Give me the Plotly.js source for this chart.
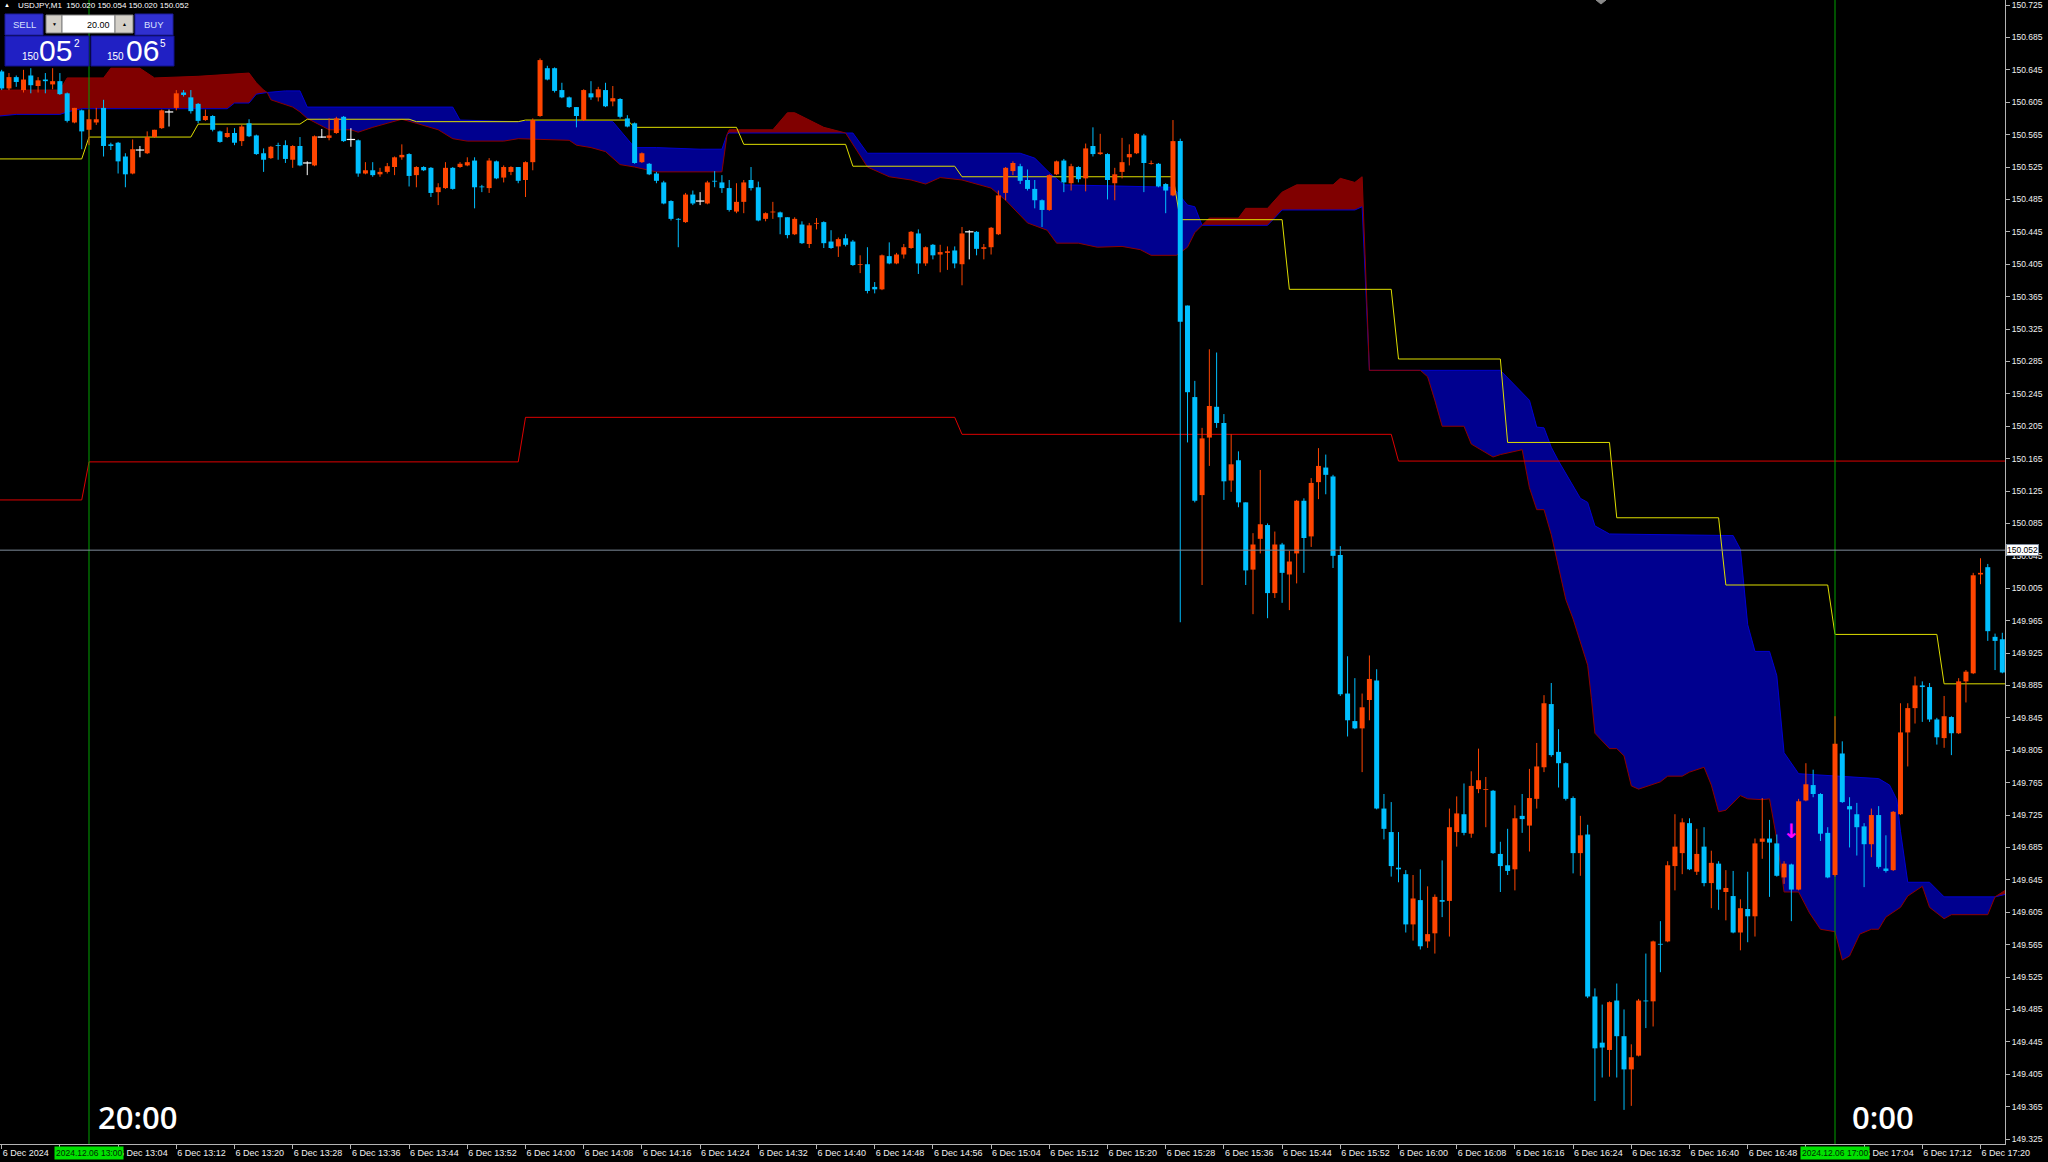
<!DOCTYPE html>
<html>
<head>
<meta charset="utf-8">
<script src="https://cdn.plot.ly/plotly-3.0.1.min.js"></script>
<style>
html,body{margin:0;padding:0;background:#000;}
#chart{width:2048px;height:1162px;}
</style>
</head>
<body>
<div id="chart"></div>
<script>
// ---------------- DATA (USDJPY M1, 6 Dec 2024; x = minutes from 13:00) ----------------
const firstBarMinute = -12;   // 12:48
const barOpen = [
150.643,150.622,150.636,150.620,150.638,150.625,150.633,150.627,150.631,150.616,150.580,150.595,
150.571,150.580,150.598,150.553,150.555,150.538,150.517,150.546,150.542,150.562,
150.573,150.593,150.598,150.617,150.611,150.603,150.583,150.588,150.569,150.562,
150.567,150.557,150.579,150.564,150.542,150.536,150.552,150.552,150.534,150.551,
150.530,150.527,150.562,150.561,150.567,150.587,150.559,150.558,150.517,150.521,
150.516,150.519,150.525,150.537,150.541,150.515,150.525,150.524,150.494,150.499,
150.524,150.525,150.527,150.533,150.501,150.499,150.532,150.512,150.519,150.525,
150.509,150.531,150.588,150.647,150.647,150.620,150.611,150.599,150.583,150.616,
150.611,150.620,150.606,150.609,150.585,150.579,150.531,150.529,150.517,150.506,
150.483,150.461,150.457,150.491,150.483,150.480,150.508,150.506,150.499,150.470,
150.482,150.509,150.500,150.461,150.469,150.469,150.463,150.442,150.454,150.430,
150.455,150.457,150.433,150.427,150.437,150.433,150.404,150.405,150.377,150.374,
150.415,150.406,150.417,150.425,150.443,150.406,150.429,150.417,150.419,150.422,
150.405,150.445,150.445,150.424,150.426,150.442,150.493,150.520,150.526,150.509,
150.498,150.484,150.472,150.516,150.533,150.505,150.525,150.511,150.551,150.541,
150.541,150.505,150.519,150.537,150.542,150.564,150.529,150.529,150.504,150.490,
150.557,150.354,150.241,150.120,150.191,150.229,150.209,150.138,150.163,150.111,
150.028,150.066,150.083,149.999,150.059,150.022,150.048,150.113,150.069,150.136,
150.154,150.143,150.046,149.875,149.841,149.832,149.867,149.891,149.733,149.704,
149.660,149.652,149.590,149.620,149.569,149.579,149.620,149.619,149.704,149.726,
149.702,149.757,149.756,149.755,149.677,149.663,149.658,149.724,149.712,149.745,
149.784,149.862,149.803,149.789,149.746,149.678,149.701,149.501,149.444,149.435,
149.496,149.452,149.411,149.428,149.496,149.495,149.566,149.569,149.662,149.678,
149.715,149.655,149.686,149.641,149.665,149.630,149.625,149.580,149.609,149.600,
149.692,149.696,149.690,149.648,149.664,149.633,149.743,149.762,149.751,149.703,
149.651,149.801,149.736,149.726,149.711,149.689,149.725,149.659,149.657,149.726,
149.827,149.857,149.885,149.883,149.843,149.820,149.846,149.826,149.890,149.900,
150.022,150.031,149.945,149.942];
const barHigh = [
150.645,150.641,150.638,150.645,150.647,150.636,150.641,150.647,150.641,150.617,150.598,150.596,
150.596,150.598,150.608,150.555,150.556,150.542,150.559,150.551,150.569,150.571,
150.596,150.596,150.620,150.620,150.620,150.604,150.596,150.589,150.570,150.574,
150.573,150.577,150.584,150.565,150.548,150.551,150.555,150.558,150.552,150.562,
150.532,150.564,150.572,150.585,150.587,150.588,150.573,150.559,150.531,150.531,
150.524,150.530,150.538,150.553,150.542,150.526,150.526,150.525,150.505,150.531,
150.525,150.531,150.537,150.537,150.503,150.536,150.533,150.527,150.526,150.525,
150.532,150.585,150.659,150.650,150.648,150.629,150.612,150.599,150.621,150.631,
150.624,150.629,150.625,150.610,150.589,150.580,150.543,150.530,150.519,150.508,
150.484,150.462,150.493,150.496,150.494,150.508,150.520,150.515,150.509,150.505,
150.509,150.525,150.507,150.469,150.482,150.470,150.463,150.463,150.458,150.456,
150.462,150.458,150.447,150.438,150.442,150.435,150.416,150.426,150.383,150.417,
150.432,150.419,150.430,150.446,150.448,150.427,150.430,150.429,150.427,150.427,
150.451,150.447,150.446,150.430,150.451,150.496,150.525,150.532,150.529,150.522,
150.509,150.485,150.516,150.533,150.535,150.529,150.526,150.554,150.574,150.566,
150.542,150.524,150.561,150.553,150.567,150.566,150.533,150.530,150.505,150.583,
150.560,150.354,150.261,150.203,150.300,150.296,150.220,150.195,150.174,150.111,
150.073,150.151,150.085,150.075,150.061,150.051,150.114,150.116,150.141,150.178,
150.170,150.145,150.057,149.921,149.894,149.875,149.922,149.905,149.751,149.741,
149.704,149.657,149.651,149.658,149.637,149.627,149.669,149.733,149.748,149.764,
149.779,149.807,149.772,149.756,149.692,149.708,149.737,149.751,149.782,149.814,
149.873,149.888,149.831,149.790,149.748,149.724,149.713,149.511,149.491,149.495,
149.517,149.485,149.442,149.498,149.554,149.570,149.594,149.668,149.726,149.721,
149.721,149.708,149.710,149.681,149.668,149.657,149.656,149.621,149.655,149.696,
149.746,149.719,149.701,149.668,149.665,149.745,149.789,149.781,149.752,149.710,
149.847,149.816,149.747,149.740,149.715,149.733,149.736,149.700,149.730,149.863,
149.863,149.896,149.890,149.888,149.845,149.872,149.847,149.894,149.904,150.024,
150.042,150.035,149.949,149.950];
const barLow = [
150.620,150.620,150.624,150.617,150.616,150.617,150.616,150.621,150.614,150.580,150.579,150.547,
150.552,150.577,150.538,150.546,150.517,150.500,150.516,150.537,150.541,150.561,
150.572,150.575,150.595,150.612,150.591,150.579,150.582,150.569,150.555,150.561,
150.552,150.551,150.562,150.540,150.519,150.535,150.534,150.530,150.524,150.526,
150.515,150.526,150.561,150.558,150.566,150.556,150.550,150.513,150.516,150.513,
150.513,150.517,150.515,150.534,150.501,150.500,150.520,150.488,150.478,150.498,
150.497,150.524,150.526,150.474,150.494,150.493,150.510,150.506,150.515,150.505,
150.488,150.521,150.587,150.632,150.617,150.610,150.598,150.574,150.582,150.608,
150.606,150.599,150.600,150.585,150.574,150.529,150.530,150.515,150.505,150.479,
150.459,150.426,150.456,150.478,150.478,150.479,150.500,150.493,150.470,150.468,
150.468,150.496,150.458,150.458,150.461,150.442,150.437,150.441,150.430,150.425,
150.448,150.425,150.424,150.414,150.427,150.403,150.394,150.369,150.369,150.373,
150.405,150.405,150.412,150.424,150.393,150.403,150.411,150.395,150.398,150.400,
150.379,150.411,150.416,150.411,150.417,150.441,150.484,150.515,150.504,150.496,
150.474,150.451,150.471,150.515,150.494,150.496,150.506,150.495,150.538,150.540,
150.485,150.484,150.511,150.527,150.541,150.494,150.528,150.500,150.468,150.489,
149.963,150.185,150.111,150.009,150.156,150.203,150.114,150.124,150.105,150.009,
149.973,150.048,149.968,149.993,149.987,149.978,150.011,150.024,150.056,150.115,
150.121,150.030,149.872,149.822,149.831,149.778,149.842,149.732,149.695,149.649,
149.642,149.580,149.570,149.559,149.561,149.554,149.599,149.575,149.686,149.700,
149.697,149.752,149.710,149.677,149.630,149.651,149.632,149.703,149.680,149.733,
149.778,149.797,149.759,149.743,149.653,149.650,149.499,149.372,149.401,149.402,
149.401,149.361,149.366,149.427,149.462,149.464,149.531,149.568,149.632,149.652,
149.657,149.651,149.637,149.610,149.608,149.595,149.579,149.558,149.568,149.575,
149.671,149.624,149.649,149.640,149.594,149.632,149.742,149.747,149.693,149.647,
149.649,149.740,149.685,149.675,149.636,149.673,149.659,149.654,149.656,149.725,
149.785,149.838,149.840,149.840,149.812,149.808,149.799,149.825,149.864,149.899,
150.010,149.940,149.904,149.900];
const barClose = [
150.622,150.636,150.630,150.633,150.626,150.632,150.631,150.631,150.615,150.582,150.598,150.569,
150.584,150.584,150.551,150.551,150.532,150.516,150.547,150.546,150.562,150.571,
150.595,150.593,150.616,150.614,150.594,150.582,150.588,150.571,150.556,150.567,
150.555,150.575,150.563,150.541,150.534,150.550,150.551,150.535,150.551,150.527,
150.530,150.563,150.562,150.564,150.585,150.557,150.559,150.517,150.521,150.515,
150.519,150.526,150.537,150.540,150.514,150.525,150.521,150.493,150.500,150.524,
150.498,150.529,150.531,150.500,150.500,150.533,150.511,150.525,150.525,150.508,
150.531,150.583,150.657,150.633,150.619,150.611,150.599,150.588,150.620,150.611,
150.621,150.600,150.610,150.587,150.575,150.530,150.542,150.516,150.508,150.480,
150.461,150.460,150.491,150.480,150.483,150.506,150.507,150.499,150.472,150.482,
150.506,150.499,150.459,150.468,150.470,150.463,150.441,150.461,150.431,150.453,
150.456,150.431,150.425,150.436,150.429,150.404,150.405,150.372,150.374,150.416,
150.406,150.417,150.426,150.445,150.406,150.426,150.416,150.420,150.421,150.406,
150.443,150.445,150.424,150.426,150.450,150.490,150.524,150.530,150.508,150.498,
150.484,150.472,150.515,150.532,150.506,150.526,150.510,150.548,150.541,150.543,
150.509,150.516,150.531,150.541,150.566,150.530,150.530,150.501,150.496,150.557,
150.334,150.247,150.113,150.190,150.230,150.209,150.137,150.158,150.111,150.027,
150.059,150.084,149.999,150.059,150.024,150.038,150.113,150.067,150.135,150.156,
150.145,150.045,149.874,149.842,149.832,149.858,149.893,149.733,149.708,149.662,
149.658,149.590,149.622,149.563,149.578,149.624,149.618,149.710,149.727,149.703,
149.761,149.768,149.757,149.678,149.662,149.656,149.721,149.720,149.746,149.785,
149.863,149.799,149.789,149.745,149.678,149.700,149.501,149.437,149.438,149.494,
149.452,149.411,149.426,149.496,149.495,149.569,149.565,149.663,149.686,149.716,
149.658,149.677,149.641,149.666,149.633,149.635,149.580,149.610,149.600,149.690,
149.696,149.691,149.650,149.665,149.633,149.742,149.763,149.751,149.702,149.648,
149.813,149.741,149.732,149.710,149.689,149.725,149.661,149.656,149.729,149.827,
149.857,149.885,149.883,149.843,149.821,149.847,149.826,149.890,149.902,150.021,
150.024,149.952,149.940,149.901];

// Ichimoku cloud boundaries (bar minute, price)
const spanA_x = [-12.3,-10,-4,-3,-1,19,20,22,23,24.5,27,29,30,50,51,59,72,75,78,84,87,87.7,88,104,105,107,128,130,132,134,149,151,152,153,162,164,174,175,176,183,194,198,199,200,201,202,205,206,207,209,221,226,227,228,229,231,232,233,235,246,247.5,248.5,249,250,253,255,262,263.4];
const spanA_y = [150.588,150.590,150.590,150.593,150.597,150.597,150.604,150.604,150.615,150.617,150.619,150.619,150.599,150.599,150.583,150.581,150.581,150.549,150.549,150.547,150.547,150.565,150.567,150.567,150.567,150.542,150.542,150.536,150.518,150.503,150.500,150.478,150.476,150.453,150.453,150.472,150.472,150.476,150.274,150.274,150.274,150.237,150.204,150.203,150.179,150.162,150.116,150.111,150.082,150.072,150.070,150.070,150.053,149.960,149.927,149.927,149.897,149.802,149.776,149.770,149.762,149.744,149.705,149.642,149.642,149.624,149.624,149.627];
const spanB_x = [-12.3,-4,-3,2,3,7,9,15,22,23,24,24.5,25,28,29,30,33,36,37,39,41,43,45,48,50,52,57,59,66,67,69,71,73,75,78,87,87.7,88,94,96,97,101,104,107,110,113,115,117,120,122.5,124,126,128,129,131.7,133,136,138.6,142,144.5,146,149.5,151,152,153,154,158,159,162,164,166,171,172,174,175,176,183,184,185,186,189,190,193,194,197,198,199,200,201,202,203,204,206,206.5,207,209,210,211,212,213,216,217,219,220,222,223,224,225,227,228,230,231,232,233,235,236.5,238,240,241,242,243.4,245,246,247,249,250,252,253,255,256,261,262,263.4];
const spanB_y = [150.620,150.620,150.635,150.635,150.647,150.647,150.635,150.637,150.641,150.629,150.620,150.617,150.608,150.599,150.593,150.585,150.571,150.571,150.568,150.574,150.579,150.584,150.579,150.571,150.560,150.557,150.557,150.560,150.558,150.552,150.549,150.544,150.528,150.525,150.519,150.519,150.565,150.571,150.571,150.592,150.592,150.574,150.567,150.525,150.513,150.509,150.504,150.512,150.509,150.503,150.499,150.484,150.466,150.456,150.447,150.431,150.431,150.426,150.427,150.423,150.416,150.416,150.426,150.444,150.453,150.462,150.462,150.474,150.474,150.494,150.503,150.503,150.511,150.506,150.513,150.274,150.274,150.266,150.237,150.205,150.205,150.183,150.167,150.170,150.176,150.129,150.102,150.102,150.071,150.030,149.991,149.967,149.910,149.870,149.826,149.807,149.807,149.798,149.761,149.757,149.766,149.773,149.773,149.778,149.784,149.762,149.729,149.731,149.749,149.745,149.744,149.745,149.695,149.630,149.630,149.604,149.584,149.581,149.546,149.551,149.578,149.584,149.584,149.599,149.611,149.625,149.637,149.611,149.597,149.602,149.602,149.624,149.632];
const kumoBreaks = [-12.3, 24.5, 87.7, 104, 153, 176, 262, 263.4];
const kumoBullish = [false, true, false, true, false, true, false];

// M15 line (yellow), steps every 15 bars
const m15Start = [-12.3,0,15,30,45,60,75,90,105,120,135,150,165,180,195,210,225,240,255];
const m15Level = [150.535,150.562,150.578,150.584,150.581,150.583,150.574,150.553,150.526,150.513,150.513,150.460,150.374,150.288,150.185,150.092,150.009,149.948,149.887];
// H1 line (red), steps every 60 bars
const h1Start = [-12.3,0,60,120,180];
const h1Level = [150.114,150.161,150.216,150.195,150.162];

const bidPrice = 150.052;
const headerText = 'USDJPY,M1  150.020 150.054 150.020 150.052';
const sessionMarks = [0, 240];
const sessionNames = ['20:00', '0:00'];
const sessionDates = ['2024.12.06 13:00', '2024.12.06 17:00'];
const signalX = [234];
const signalY = [149.703];

// tick labels hidden under the green session date boxes are left blank
const timeTicks = [-12,-4,4,12,20,28,36,44,52,60,68,76,84,92,100,108,116,124,132,140,148,156,164,172,180,188,196,204,212,220,228,236,244,252,260];
const timeTickLabels = ['6 Dec 2024','','6 Dec 13:04','6 Dec 13:12','6 Dec 13:20','6 Dec 13:28','6 Dec 13:36','6 Dec 13:44','6 Dec 13:52','6 Dec 14:00','6 Dec 14:08','6 Dec 14:16','6 Dec 14:24','6 Dec 14:32','6 Dec 14:40','6 Dec 14:48','6 Dec 14:56','6 Dec 15:04','6 Dec 15:12','6 Dec 15:20','6 Dec 15:28','6 Dec 15:36','6 Dec 15:44','6 Dec 15:52','6 Dec 16:00','6 Dec 16:08','6 Dec 16:16','6 Dec 16:24','6 Dec 16:32','6 Dec 16:40','6 Dec 16:48','','6 Dec 17:04','6 Dec 17:12','6 Dec 17:20'];
const priceTickLabels = ['149.325','149.365','149.405','149.445','149.485','149.525','149.565','149.605','149.645','149.685','149.725','149.765','149.805','149.845','149.885','149.925','149.965','150.005','150.045','150.085','150.125','150.165','150.205','150.245','150.285','150.325','150.365','150.405','150.445','150.485','150.525','150.565','150.605','150.645','150.685','150.725'];

// ---------------- LAYOUT GEOMETRY ----------------
const W = 2048, H = 1162;
const M = {l: 0, r: 43, t: 0, b: 18};
const PW = W - M.l - M.r, PH = H - M.t - M.b;
const xRange = [-12.234, 263.368];
const yRange = [149.3189, 150.7312];
const px = v => (v - M.l) / PW;          // pixel -> paper x
const py = v => 1 - (v - M.t) / PH;      // pixel -> paper y

const BULL = '#ff4500', BEAR = '#00bfff', DOJI = '#ffffff';
const FONT = 'Liberation Sans, Arial, sans-serif';

// ---------------- TRACES ----------------
const traces = [];
const N = barOpen.length;
const barX = barOpen.map((_, k) => firstBarMinute + k);

// cloud fills
function pick(xs, ys, s, e) {
  const ox = [], oy = [];
  for (let k = 0; k < xs.length; k++) if (xs[k] >= s - 1e-9 && xs[k] <= e + 1e-9) { ox.push(xs[k]); oy.push(ys[k]); }
  return [ox, oy];
}
for (let s = 0; s < kumoBreaks.length - 1; s++) {
  const a = pick(spanA_x, spanA_y, kumoBreaks[s], kumoBreaks[s + 1]);
  const b = pick(spanB_x, spanB_y, kumoBreaks[s], kumoBreaks[s + 1]);
  traces.push({
    type: 'scatter', mode: 'lines',
    x: a[0].concat(b[0].slice().reverse()),
    y: a[1].concat(b[1].slice().reverse()),
    fill: 'toself', fillcolor: kumoBullish[s] ? '#00008f' : '#800000',
    line: {width: 0, color: 'rgba(0,0,0,0)'}, hoverinfo: 'skip'
  });
}
traces.push({type: 'scatter', mode: 'lines', x: spanA_x, y: spanA_y, line: {color: '#0000d0', width: 1}, hoverinfo: 'skip'});
traces.push({type: 'scatter', mode: 'lines', x: spanB_x, y: spanB_y, line: {color: '#8b0000', width: 1}, hoverinfo: 'skip'});

function stepLine(starts, levels, span, color) {
  const x = [], y = [];
  for (let k = 0; k < starts.length; k++) {
    const end = k + 1 < starts.length ? starts[k + 1] - span : xRange[1] + 1;
    x.push(starts[k], end); y.push(levels[k], levels[k]);
  }
  return {type: 'scatter', mode: 'lines', x, y, line: {color, width: 1}, hoverinfo: 'skip'};
}
traces.push(stepLine(h1Start, h1Level, 1, '#dd0000'));
traces.push(stepLine(m15Start, m15Level, 1, '#dede00'));

// session vertical lines
sessionMarks.forEach(m => traces.push({
  type: 'scatter', mode: 'lines', x: [m, m], y: [yRange[0] - 1, yRange[1] + 1],
  line: {color: '#00a000', width: 1}, hoverinfo: 'skip'
}));

// candles
function segs(filter, lo, hi) {
  const x = [], y = [];
  for (let k = 0; k < N; k++) if (filter(k)) { x.push(barX[k], barX[k], null); y.push(lo[k], hi[k], null); }
  return [x, y];
}
const isBull = k => barClose[k] > barOpen[k];
const isBear = k => barClose[k] < barOpen[k];
const isDoji = k => barClose[k] === barOpen[k];
[[isBull, BULL], [isBear, BEAR], [isDoji, DOJI]].forEach(([f, c]) => {
  const w = segs(f, barLow, barHigh);
  traces.push({type: 'scatter', mode: 'lines', x: w[0], y: w[1], line: {color: c, width: 1}, hoverinfo: 'skip', connectgaps: false});
});
[[isBull, BULL], [isBear, BEAR]].forEach(([f, c]) => {
  const b = segs(f, barOpen, barClose);
  traces.push({type: 'scatter', mode: 'lines', x: b[0], y: b[1], line: {color: c, width: 5}, hoverinfo: 'skip', connectgaps: false});
});
(function () {
  const x = [], y = [];
  for (let k = 0; k < N; k++) if (isDoji(k)) { x.push(barX[k]); y.push(barClose[k]); }
  traces.push({type: 'scatter', mode: 'markers', x, y, marker: {symbol: 'line-ew', size: 6, line: {color: DOJI, width: 1.2}}, hoverinfo: 'skip'});
})();

// signal arrow
traces.push({type: 'scatter', mode: 'text', x: signalX, y: signalY, text: signalX.map(() => '↓'),
  textfont: {family: 'DejaVu Sans', size: 20, color: '#ff00ff', weight: 'bold'}, hoverinfo: 'skip'});

// ---------------- SHAPES & ANNOTATIONS ----------------
const shapes = [];
const ann = [];
shapes.push({type: 'line', xref: 'paper', yref: 'y', x0: 0, x1: 1, y0: bidPrice, y1: bidPrice, line: {color: '#7f8c9c', width: 1}, layer: 'above'});
// chart-shift marker (small grey triangle at the top edge)
shapes.push({type: 'path', xref: 'paper', yref: 'paper',
  path: 'M ' + px(1596) + ' ' + py(0) + ' L ' + px(1606) + ' ' + py(0) + ' L ' + px(1601) + ' ' + py(4) + ' Z',
  fillcolor: '#8a8a8a', line: {color: '#8a8a8a', width: 1}, layer: 'above'});

function rect(x0, y0, x1, y1, fill, lineColor) {
  shapes.push({type: 'rect', xref: 'paper', yref: 'paper', x0: px(x0), x1: px(x1), y0: py(y1), y1: py(y0),
    fillcolor: fill, line: {color: lineColor, width: 1}, layer: 'above'});
}
function txt(x, y, text, size, color, anchor, extra) {
  ann.push(Object.assign({xref: 'paper', yref: 'paper', x: px(x), y: py(y), text, showarrow: false,
    xanchor: anchor || 'center', yanchor: 'middle', font: {family: FONT, size, color}}, extra || {}));
}
// one-click trading panel
rect(5, 14, 43, 35, '#3030d0', '#1c1c9c');
rect(46, 15, 62, 33, '#d4d0c8', '#808080');
rect(62, 15, 115, 33, '#ffffff', '#808080');
rect(115, 15, 133, 33, '#d4d0c8', '#808080');
rect(135, 14, 173, 35, '#3030d0', '#1c1c9c');
rect(5, 36, 89, 66, '#2020c4', '#10108c');
rect(91, 36, 174, 66, '#2020c4', '#10108c');
txt(24, 24.5, 'SELL', 9.5, '#d8e0ff');
txt(54, 24, '▼', 5, '#000000');
txt(112, 24.5, '20.00', 9, '#000000', 'right');
txt(124, 24, '▲', 5, '#000000');
txt(154, 24.5, 'BUY', 9.5, '#d8e0ff');
txt(30, 56, '150', 10, '#ffffff');
txt(55, 50, '05', 30, '#ffffff');
txt(77, 44, '2', 10, '#ffffff');
txt(115, 56, '150', 10, '#ffffff');
txt(142, 50, '06', 30, '#ffffff');
txt(163, 44, '5', 10, '#ffffff');
// header
txt(6.5, 5.5, '▲', 6, '#ffffff');
txt(16, 6, headerText, 8, '#ffffff', 'left');

// session labels
sessionMarks.forEach((m, k) => {
  ann.push({xref: 'x', yref: 'paper', x: m, xshift: 48, y: py(1117), text: sessionNames[k], showarrow: false,
    xanchor: 'center', yanchor: 'middle', font: {family: 'Open Sans, Liberation Sans, sans-serif', size: 31, color: '#ffffff', weight: 600}});
  ann.push({xref: 'x', yref: 'paper', x: m, y: py(1153), text: sessionDates[k], showarrow: false,
    xanchor: 'center', yanchor: 'middle', bgcolor: '#00e000', borderpad: 1,
    font: {family: FONT, size: 8.5, color: '#002a00'}});
});
// bid label
ann.push({xref: 'paper', yref: 'y', x: 1, xshift: 1, y: bidPrice, text: bidPrice.toFixed(3), showarrow: false,
  xanchor: 'left', yanchor: 'middle', bgcolor: '#ffffff', bordercolor: '#7f8c9c', borderwidth: 1, borderpad: 0,
  font: {family: FONT, size: 8.5, color: '#000000'}});

const layout = {
  width: W, height: H,
  margin: {l: M.l, r: M.r, t: M.t, b: M.b, pad: 0},
  paper_bgcolor: '#000000', plot_bgcolor: '#000000',
  showlegend: false,
  xaxis: {
    range: xRange, tickmode: 'array', tickvals: timeTicks, ticktext: timeTickLabels,
    ticks: 'outside', ticklen: 4, tickwidth: 1, tickcolor: '#b4b4b4',
    showline: true, linecolor: '#b4b4b4', linewidth: 1, showgrid: false, zeroline: false,
    ticklabelposition: 'outside right', ticklabeloverflow: 'allow',
    tickfont: {family: FONT, size: 9, color: '#f0f0f0'}, fixedrange: true
  },
  yaxis: {
    side: 'right', range: yRange, tickmode: 'array',
    tickvals: priceTickLabels.map(Number), ticktext: priceTickLabels,
    ticks: 'outside', ticklen: 4, tickwidth: 1, tickcolor: '#b4b4b4',
    showline: true, linecolor: '#b4b4b4', linewidth: 1, showgrid: false, zeroline: false,
    ticklabeloverflow: 'allow',
    tickfont: {family: FONT, size: 8.5, color: '#f0f0f0'}, fixedrange: true
  },
  shapes, annotations: ann
};

Plotly.newPlot('chart', traces, layout, {displayModeBar: false, staticPlot: true});
</script>
</body>
</html>
